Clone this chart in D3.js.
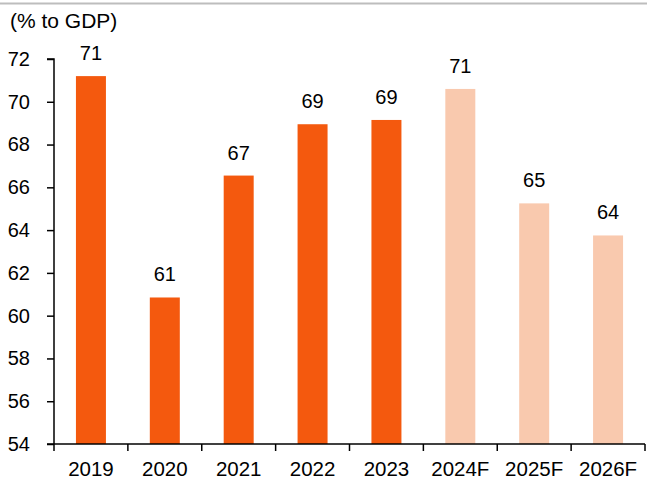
<!DOCTYPE html>
<html>
<head>
<meta charset="utf-8">
<script src="https://cdn.jsdelivr.net/npm/d3@7"></script>
<style>
  html, body { margin: 0; padding: 0; background: #fff; }
  svg text { font-family: "Liberation Sans", Arial, sans-serif; fill: #000; }
</style>
</head>
<body>
<svg id="chart" width="647" height="480"></svg>
<script>
// Public debt ratio by year; F marks forecast years
const categories = ["2019", "2020", "2021", "2022", "2023", "2024F", "2025F", "2026F"];
const values = [71.2, 60.85, 66.55, 68.95, 69.15, 70.6, 65.25, 63.75];
const isForecast = [false, false, false, false, false, true, true, true];
const yTicks = [54, 56, 58, 60, 62, 64, 66, 68, 70, 72];
const unitLabel = "(% to GDP)";

const svg = d3.select("#chart");
const W = 647, H = 480;
const margin = { left: 54, right: 2, top: 59, bottom: 36 };

// thin grey rule across the top
svg.append("line")
  .attr("x1", 0).attr("x2", W).attr("y1", 3.5).attr("y2", 3.5)
  .attr("stroke", "#bdbdbd").attr("stroke-width", 2);

const x = d3.scaleBand()
  .domain(categories)
  .range([margin.left, W - margin.right])
  .paddingInner(0.594).paddingOuter(0.297);

const y = d3.scaleLinear()
  .domain([54, 72])
  .range([H - margin.bottom, margin.top]);

// bars
svg.append("g").selectAll("rect")
  .data(categories)
  .join("rect")
  .attr("x", d => x(d))
  .attr("width", x.bandwidth())
  .attr("y", (d, i) => y(values[i]))
  .attr("height", (d, i) => y(54) - y(values[i]))
  .attr("fill", (d, i) => isForecast[i] ? "#f9c9ae" : "#f4590e");

// value labels
svg.append("g").selectAll("text")
  .data(categories)
  .join("text")
  .attr("x", d => x(d) + x.bandwidth() / 2)
  .attr("y", (d, i) => y(values[i]) - 16)
  .attr("text-anchor", "middle")
  .style("font-size", "20px")
  .text((d, i) => d3.format(".0f")(values[i]));

// y axis
const yAxis = d3.axisLeft(y).tickValues(yTicks).tickSize(7).tickPadding(17);
const gy = svg.append("g").attr("transform", `translate(${margin.left},0)`).call(yAxis);
gy.select(".domain").attr("d", `M-7,${y(72)}H0V${y(54)}`);
gy.selectAll("text").style("font-size", "20px").attr("fill", "#000");
gy.selectAll("line, path").attr("stroke", "#000").attr("stroke-width", 1.5);

// x axis with ticks at category boundaries
const step = x.step();
const xAxisG = svg.append("g").attr("transform", `translate(0,${y(54)})`);
xAxisG.append("line")
  .attr("x1", margin.left - 7).attr("x2", W - margin.right)
  .attr("stroke", "#000").attr("stroke-width", 1.5);
const boundaries = d3.range(categories.length + 1).map(i => margin.left + i * step);
xAxisG.selectAll("line.tick")
  .data(boundaries)
  .join("line")
  .attr("class", "tick")
  .attr("x1", d => d).attr("x2", d => d)
  .attr("y1", 0).attr("y2", 7)
  .attr("stroke", "#000").attr("stroke-width", 1.5);
xAxisG.selectAll("text")
  .data(categories)
  .join("text")
  .attr("x", d => x(d) + x.bandwidth() / 2)
  .attr("y", 32)
  .attr("text-anchor", "middle")
  .style("font-size", "20.5px")
  .text(d => d);

// unit label
svg.append("text")
  .attr("x", 10).attr("y", 28)
  .style("font-size", "21px")
  .text(unitLabel);
</script>
</body>
</html>
